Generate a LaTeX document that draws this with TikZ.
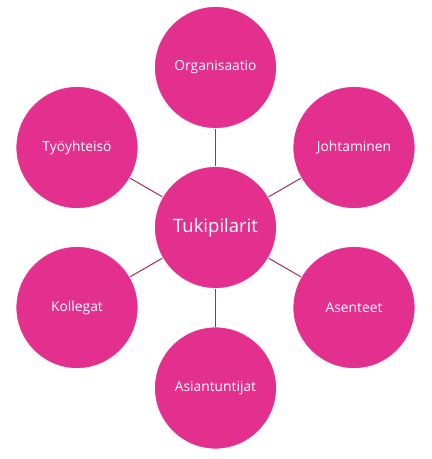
\documentclass[tikz,border=0pt]{standalone}
\usepackage{fontspec}
\setmainfont{Open Sans}
\definecolor{pinkfill}{HTML}{E3308F}
\definecolor{linkline}{HTML}{9C2E5F}
\begin{document}
\begin{tikzpicture}[x=1pt,y=-1pt,
  bubble/.style={circle,fill=pinkfill,draw=white,line width=0.8pt,minimum size=122pt,inner sep=0pt,text=white,font=\fontsize{13.8}{16}\selectfont},
  hub/.style={bubble,font=\fontsize{18.5}{22}\selectfont},
  link/.style={draw=linkline,line width=1pt}]
\useasboundingbox (0,0) rectangle (432,459);
\node[hub] (c) at (215.5,227.5) {Tukipilarit};
\node[bubble] (o) at (215.5,67.5) {Organisaatio};
\node[bubble] (j) at (354,147.5) {Johtaminen};
\node[bubble] (a) at (354,307.5) {Asenteet};
\node[bubble] (s) at (215.5,388) {Asiantuntijat};
\node[bubble] (k) at (77,307.5) {Kollegat};
\node[bubble] (t) at (77,147.5) {Työyhteisö};
\foreach \n in {o,j,a,s,k,t}{\path[link] (c) -- (\n);}
\end{tikzpicture}
\end{document}
